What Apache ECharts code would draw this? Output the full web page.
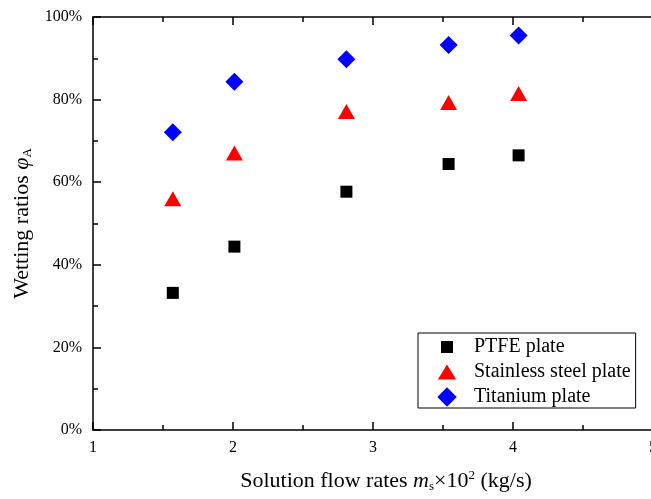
<!DOCTYPE html>
<html>
<head>
<meta charset="utf-8">
<script src="https://cdn.jsdelivr.net/npm/echarts@6/dist/echarts.min.js"></script>
<style>
html,body{margin:0;padding:0;background:#fff;}
#chart{width:651px;height:499px;}
</style>
</head>
<body>
<div id="chart"></div>
<script>
var flowRates = [1.57, 2.01, 2.81, 3.54, 4.04];
var ptfe = [33.2, 44.4, 57.7, 64.4, 66.5];
var stainless = [56.0, 67.1, 77.1, 79.3, 81.5];
var titanium = [72.1, 84.3, 89.8, 93.2, 95.5];
var seriesNames = ['PTFE plate', 'Stainless steel plate', 'Titanium plate'];

function pairs(xs, ys) { return xs.map(function (x, i) { return [x, ys[i]]; }); }

var FONT = '"Liberation Serif", "Times New Roman", serif';
var chart = echarts.init(document.getElementById('chart'), null, { renderer: 'canvas' });

var axisCommon = {
  axisLine: { show: true, onZero: false, lineStyle: { color: '#000', width: 1.5 } },
  axisTick: { show: true, inside: true, length: 8, lineStyle: { color: '#000', width: 1.5 } },
  minorTick: { show: true, splitNumber: 2, length: 5, lineStyle: { color: '#000', width: 1.5 } },
  splitLine: { show: false }
};

// legend icons: fixed 32x20 box, glyph centred at x=10
var iconSquare = 'path://M0,0M32,20M4,4L16,4L16,16L4,16Z';
var iconTriangle = 'path://M0,0M32,20M0.8,17.5L10,2.5L19.2,17.5Z';
var iconDiamond = 'path://M0,0M32,20M10,0.3L19.7,10L10,19.7L0.3,10Z';

chart.setOption({
  animation: false,
  backgroundColor: '#fff',
  textStyle: { fontFamily: FONT },
  grid: { left: 93, right: -2, top: 17, bottom: 69, containLabel: false, outerBoundsMode: 'none' },
  legend: {
    orient: 'vertical',
    left: 418, top: 333,
    padding: [4, 5, 1, 19],
    itemWidth: 32, itemHeight: 20, itemGap: 5,
    symbolKeepAspect: true,
    borderColor: '#000', borderWidth: 1,
    textStyle: { fontFamily: FONT, fontSize: 20, lineHeight: 20, color: '#000' },
    data: [
      { name: seriesNames[0], icon: iconSquare },
      { name: seriesNames[1], icon: iconTriangle },
      { name: seriesNames[2], icon: iconDiamond }
    ]
  },
  xAxis: [
    Object.assign({
      type: 'value', min: 1, max: 5, interval: 1, position: 'bottom',
      axisLabel: { show: true, color: '#000', fontSize: 16, fontFamily: FONT, margin: 10 },
      name: '{t|Solution flow rates }{i|m}{sub|s}{t|×10}{sup|2}{t| (kg/s)}',
      nameLocation: 'middle', nameGap: 39,
      nameTextStyle: {
        padding: [0, 0, 0, 26],
        rich: {
          t: { fontFamily: FONT, fontSize: 22, lineHeight: 24, color: '#000' },
          i: { fontFamily: FONT, fontSize: 22, lineHeight: 24, fontStyle: 'italic', color: '#000' },
          sub: { fontFamily: FONT, fontSize: 13, lineHeight: 24, color: '#000', verticalAlign: 'bottom', padding: [14, 0, 0, 0] },
          sup: { fontFamily: FONT, fontSize: 13, lineHeight: 24, color: '#000', verticalAlign: 'top', padding: [0, 0, 10, 0] }
        }
      }
    }, axisCommon),
    Object.assign({
      type: 'value', min: 1, max: 5, interval: 1, position: 'top',
      axisLabel: { show: false }
    }, axisCommon)
  ],
  yAxis: [
    Object.assign({
      type: 'value', min: 0, max: 100, interval: 20, position: 'left',
      axisLabel: { show: true, color: '#000', fontSize: 16, fontFamily: FONT, margin: 11, formatter: '{value}%' },
      name: '{t|Wetting ratios }{i|φ}{sub|A}',
      nameLocation: 'middle', nameGap: 48, nameRotate: 90,
      nameTextStyle: {
        rich: {
          t: { fontFamily: FONT, fontSize: 22, lineHeight: 24, color: '#000' },
          i: { fontFamily: FONT, fontSize: 22, lineHeight: 24, fontStyle: 'italic', color: '#000' },
          sub: { fontFamily: FONT, fontSize: 13, lineHeight: 24, color: '#000', verticalAlign: 'bottom', padding: [14, 0, 0, 0] }
        }
      }
    }, axisCommon)
  ],
  series: [
    { name: seriesNames[0], type: 'scatter', symbol: 'rect', symbolSize: 12,
      itemStyle: { color: '#000000', opacity: 1 }, data: pairs(flowRates, ptfe) },
    { name: seriesNames[1], type: 'scatter', symbol: 'triangle', symbolSize: [17, 15],
      itemStyle: { color: '#ff0000', opacity: 1 }, data: pairs(flowRates, stainless) },
    { name: seriesNames[2], type: 'scatter', symbol: 'diamond', symbolSize: 18,
      itemStyle: { color: '#0000ff', opacity: 1 }, data: pairs(flowRates, titanium) }
  ]
});
</script>
</body>
</html>
